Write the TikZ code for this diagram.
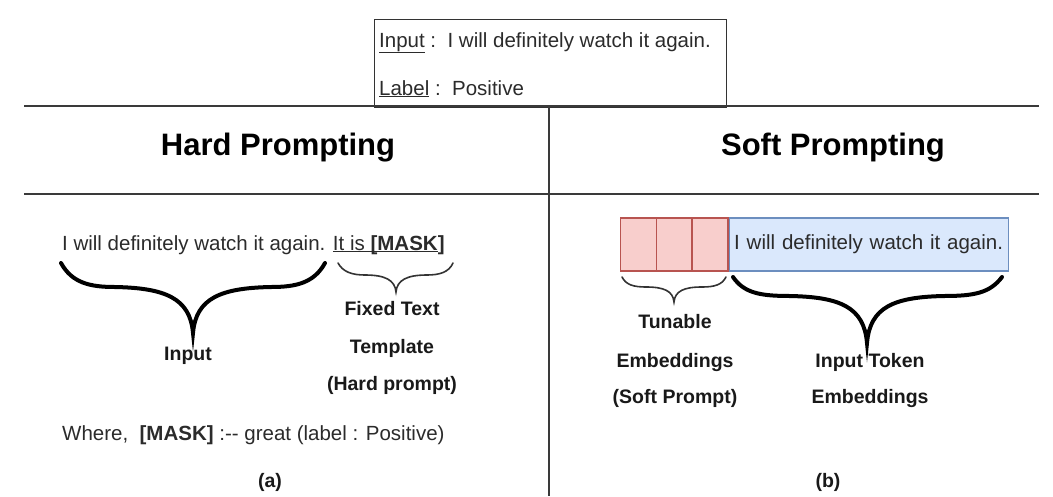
\documentclass[tikz,border=0pt]{standalone}
\usepackage{fontspec}
\setmainfont{Liberation Sans}

\definecolor{promptred}{HTML}{F8CECC}
\definecolor{promptredline}{HTML}{B85450}
\definecolor{tokenblue}{HTML}{DAE8FC}
\definecolor{tokenblueline}{HTML}{6C8EBF}
\definecolor{rulegray}{HTML}{3A3A3A}
\definecolor{textgray}{HTML}{2B2B2B}

\tikzset{
  sentence/.style={font=\fontsize{20.5}{24}\selectfont, text=textgray, inner sep=0pt},
  boldlabel/.style={font=\bfseries\fontsize{19.5}{23}\selectfont, text=black!90, inner sep=0pt, anchor=base},
  titletext/.style={font=\bfseries\fontsize{31}{36}\selectfont, inner sep=0pt, anchor=base},
  separator/.style={draw=rulegray, line width=2.4pt},
  bigbrace/.style={line width=4pt, line cap=round},
  smallbrace/.style={draw=black!80, line width=1.6pt, line cap=round},
  cell/.style={draw=promptredline, fill=promptred, line width=1.4pt, minimum width=35.7pt, minimum height=53pt, inner sep=0pt, anchor=west},
  tokbox/.style={draw=tokenblueline, fill=tokenblue, line width=1.4pt, minimum height=53pt, text width=269pt, inner xsep=5pt, align=left, anchor=west},
}

\begin{document}
\begin{tikzpicture}[x=1pt, y=-1pt]
    \useasboundingbox (0,0) rectangle (1053,496);

    % Example box on top
    \node[draw=black!80, line width=1.4pt, minimum width=352pt, minimum height=88pt, inner sep=0pt, anchor=north west] (example) at (374,19) {};
    \node[sentence, anchor=base west] (exinput) at (379,47) {\underline{Input} :\ \ I will definitely watch it again.};
    \node[sentence, anchor=base west] (exlabel) at (379,95) {\underline{Label} :\ \ Positive};

    % Table rules
    \draw[separator] (24,106) -- (1039,106);
    \draw[separator] (24,194) -- (1039,194);
    \draw[draw=rulegray, line width=1.6pt] (549,106) -- (549,496);

    % Headings
    \node[titletext] (hard) at (278,155) {Hard Prompting};
    \node[titletext] (soft) at (833,155) {Soft Prompting};

    % Hard prompting: input + fixed template
    \node[sentence, anchor=base west] (hardtext) at (62,250) {I will definitely watch it again. \underline{It is \textbf{\raisebox{0pt}[\height][0pt]{[}MASK}}\textbf{]}};

    % Big brace under the input
    \draw[bigbrace] (61,263) .. controls (72,283) and (90,287) .. (115,287)
        .. controls (165,288) and (190,298) .. (193,333)
        .. controls (196,298) and (221,288) .. (271,287)
        .. controls (296,287) and (314,283) .. (325,263);
    % Small brace under the template
    \draw[smallbrace] (338,263) .. controls (343,272) and (352,275) .. (365,275)
        .. controls (385,275) and (395,280) .. (396,292)
        .. controls (397,280) and (407,275) .. (427,275)
        .. controls (440,275) and (449,272) .. (453,263);

    \node[boldlabel] (hardinput) at (188,360) {Input};
    \node[boldlabel] (fixed1) at (392,315) {Fixed Text};
    \node[boldlabel] (fixed2) at (392,353) {Template};
    \node[boldlabel] (fixed3) at (392,390) {(Hard prompt)};

    \node[sentence, anchor=base west] (where) at (62,440) {Where,\ \ \textbf{[MASK]} :-{}- great (label : Positive)};
    \node[boldlabel] (capa) at (270,487) {(a)};

    % Soft prompting: tunable cells + token embeddings
    \foreach \i in {0,1,2}
        \node[cell] (cell\i) at (620+35.7*\i,244.5) {};
    \node[tokbox, sentence, inner xsep=5pt] (tok) at (cell2.east) {I will definitely watch it again.};

    % Small brace under the soft prompt cells
    \draw[smallbrace] (622,277) .. controls (626,285) and (634,287) .. (646,287)
        .. controls (664,287) and (673,291) .. (674,302)
        .. controls (675,291) and (684,287) .. (702,287)
        .. controls (714,287) and (722,285) .. (726,277);
    % Big brace under the token embeddings
    \draw[bigbrace] (733,277) .. controls (744,293) and (760,296) .. (790,296)
        .. controls (840,297) and (864,307) .. (867,343)
        .. controls (870,307) and (894,297) .. (944,296)
        .. controls (974,296) and (990,293) .. (1002,277);

    \node[boldlabel] (tune1) at (675,328) {Tunable};
    \node[boldlabel] (tune2) at (675,367) {Embeddings};
    \node[boldlabel] (tune3) at (675,403) {(Soft Prompt)};
    \node[boldlabel] (token1) at (870,367) {Input Token};
    \node[boldlabel] (token2) at (870,403) {Embeddings};

    \node[boldlabel] (capb) at (828,487) {(b)};
\end{tikzpicture}
\end{document}
